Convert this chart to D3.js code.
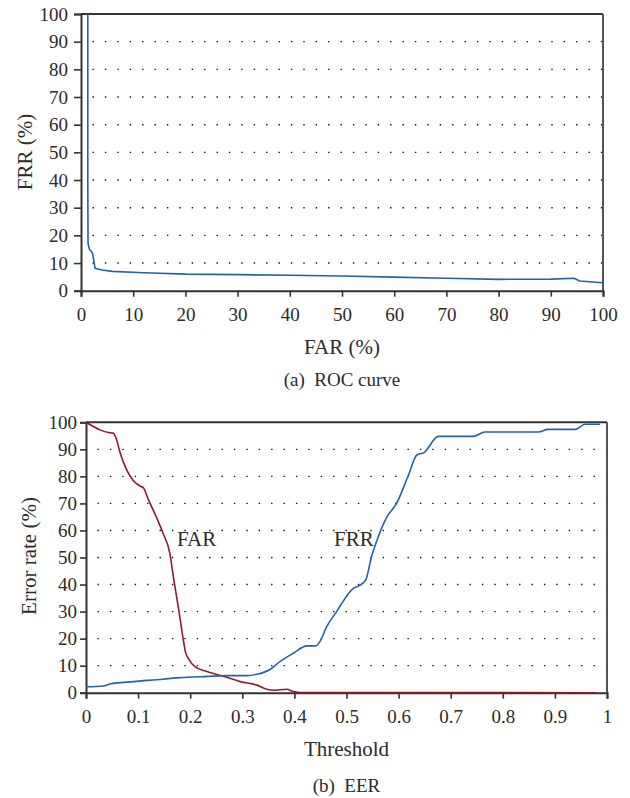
<!DOCTYPE html>
<html>
<head>
<meta charset="utf-8">
<script src="https://cdn.jsdelivr.net/npm/d3@7"></script>
<style>
  body { margin: 0; background: #fff; }
  text { font-family: "Liberation Serif", "DejaVu Serif", serif; fill: #2b2b2b; }
</style>
</head>
<body>
<div id="chart"></div>
<script>
// ROC curve (FAR %, FRR %)
var rocFar = [1.3, 1.3, 1.35, 1.6, 2.0, 2.2, 2.7, 4, 6, 12, 20, 30, 40, 50, 60, 70, 80, 90, 94.5, 95.5, 100];
var rocFrr = [100, 40, 17, 15, 14.2, 13.6, 8.1, 7.5, 7.0, 6.5, 6.0, 5.8, 5.6, 5.3, 4.9, 4.5, 4.1, 4.2, 4.5, 3.5, 2.9];

// EER curves vs threshold
var farThr = [0, 0.027, 0.043, 0.052, 0.058, 0.065, 0.078, 0.091, 0.104, 0.11, 0.12, 0.136, 0.148, 0.161, 0.168, 0.178, 0.186, 0.191, 0.197, 0.209, 0.232, 0.27, 0.296, 0.328, 0.347, 0.36, 0.385, 0.398, 0.41, 0.6, 0.8, 0.98];
var farVal = [100, 97.2, 96.2, 96, 94, 89, 82.4, 78.4, 76.4, 75.8, 71.3, 64.5, 58.9, 51.5, 42.5, 30.6, 20.5, 15, 12.5, 9.6, 7.8, 5.7, 4.1, 2.8, 1.3, 0.9, 1.3, 0.4, 0.1, 0.1, 0.05, 0];
var frrThr = [0, 0.033, 0.046, 0.091, 0.148, 0.174, 0.219, 0.27, 0.308, 0.328, 0.353, 0.372, 0.398, 0.424, 0.44, 0.449, 0.462, 0.481, 0.513, 0.526, 0.537, 0.548, 0.561, 0.576, 0.596, 0.619, 0.635, 0.649, 0.676, 0.743, 0.766, 0.868, 0.887, 0.939, 0.958, 0.987];
var frrVal = [2.2, 2.5, 3.2, 4.1, 5.0, 5.5, 5.9, 6.3, 6.3, 6.8, 8.6, 11.5, 14.6, 17.3, 17.3, 18.9, 24.4, 30, 38.6, 39.8, 41.7, 50.3, 57.7, 64.5, 70, 80.5, 87.9, 88.8, 94.8, 94.8, 96.4, 96.4, 97.4, 97.4, 99.3, 99.3];

var yTicks = [0, 10, 20, 30, 40, 50, 60, 70, 80, 90, 100];
var rocTicks = [0, 10, 20, 30, 40, 50, 60, 70, 80, 90, 100];
var thrTicks = [0, 0.1, 0.2, 0.3, 0.4, 0.5, 0.6, 0.7, 0.8, 0.9, 1];

var blue = "#2860a8", red = "#8e1b2c", axisCol = "#333";

var svg = d3.select("#chart").append("svg")
  .attr("width", 630).attr("height", 798);

function panel(o) {
  var x = d3.scaleLinear().domain(o.xDomain).range([o.left, o.right]);
  var y = d3.scaleLinear().domain([0, 100]).range([o.bottom, o.top]);
  var g = svg.append("g");

  // dotted horizontal grid
  g.selectAll(".grid").data(yTicks.slice(1, -1)).enter().append("line")
    .attr("x1", o.left + 11.5).attr("x2", o.right)
    .attr("y1", function(d) { return y(d); })
    .attr("y2", function(d) { return y(d); })
    .attr("stroke", "#111").attr("stroke-width", 1.4)
    .attr("stroke-dasharray", "1.4 11");

  // frame top + right
  g.append("line").attr("x1", o.left).attr("x2", o.right)
    .attr("y1", o.top).attr("y2", o.top)
    .attr("stroke", axisCol).attr("stroke-width", 2);
  g.append("line").attr("x1", o.right).attr("x2", o.right)
    .attr("y1", o.top).attr("y2", o.bottom)
    .attr("stroke", "#555").attr("stroke-width", 2);

  var ya = g.append("g").attr("transform", "translate(" + o.left + ",0)")
    .call(d3.axisLeft(y).tickValues(yTicks).tickSizeOuter(0)
      .tickSize(o.yTickSize).tickPadding(o.yPad));
  var xa = g.append("g").attr("transform", "translate(0," + o.bottom + ")")
    .call(d3.axisBottom(x).tickValues(o.xTicks).tickSizeOuter(0)
      .tickSize(6).tickPadding(11).tickFormat(d3.format("")));
  [ya, xa].forEach(function(a) {
    a.select(".domain").attr("stroke", axisCol).attr("stroke-width", 2);
    a.selectAll(".tick line").attr("stroke", axisCol).attr("stroke-width", 1.6);
    a.selectAll("text").attr("font-size", 19).attr("fill", "#2b2b2b")
      .style("font-family", '"Liberation Serif", serif');
  });

  var line = d3.line()
    .x(function(d) { return x(d[0]); })
    .y(function(d) { return y(d[1]); })
    .curve(o.curve || d3.curveLinear);

  o.series.forEach(function(s) {
    g.append("path").datum(d3.zip(s.x, s.y))
      .attr("fill", "none").attr("stroke", s.color)
      .attr("stroke-width", 1.6).attr("d", line);
  });

  g.append("text").attr("x", (o.left + o.right) / 2).attr("y", o.xTitleY)
    .attr("text-anchor", "middle").attr("font-size", 21).text(o.xTitle);
  g.append("text")
    .attr("transform", "translate(" + o.yTitleX + "," + o.yTitleY + ") rotate(-90)")
    .attr("text-anchor", "middle").attr("font-size", 21).text(o.yTitle);
  g.append("text").attr("x", (o.left + o.right) / 2).attr("y", o.captionY)
    .attr("text-anchor", "middle").attr("font-size", 19)
    .attr("xml:space", "preserve").text(o.caption);
  return { x: x, y: y, g: g };
}

panel({
  left: 81, right: 603, top: 14, bottom: 290.7,
  xDomain: [0, 100], xTicks: rocTicks, yTickSize: 7, yPad: 6,
  series: [{ x: rocFar, y: rocFrr, color: blue }],
  xTitle: "FAR (%)", xTitleY: 354,
  yTitle: "FRR (%)", yTitleX: 32, yTitleY: 152,
  caption: "(a)  ROC curve", captionY: 386
});

var p2 = panel({
  left: 86, right: 607, top: 422.3, bottom: 692.7,
  xDomain: [0, 1], xTicks: thrTicks, yTickSize: 6, yPad: 3,
  curve: d3.curveMonotoneX,
  series: [{ x: farThr, y: farVal, color: red }, { x: frrThr, y: frrVal, color: blue }],
  xTitle: "Threshold", xTitleY: 756,
  yTitle: "Error rate (%)", yTitleX: 36, yTitleY: 556,
  caption: "(b)  EER", captionY: 792
});

p2.g.append("text").attr("x", 177).attr("y", 546).attr("font-size", 21).text("FAR");
p2.g.append("text").attr("x", 334).attr("y", 546).attr("font-size", 21).text("FRR");
</script>
</body>
</html>
